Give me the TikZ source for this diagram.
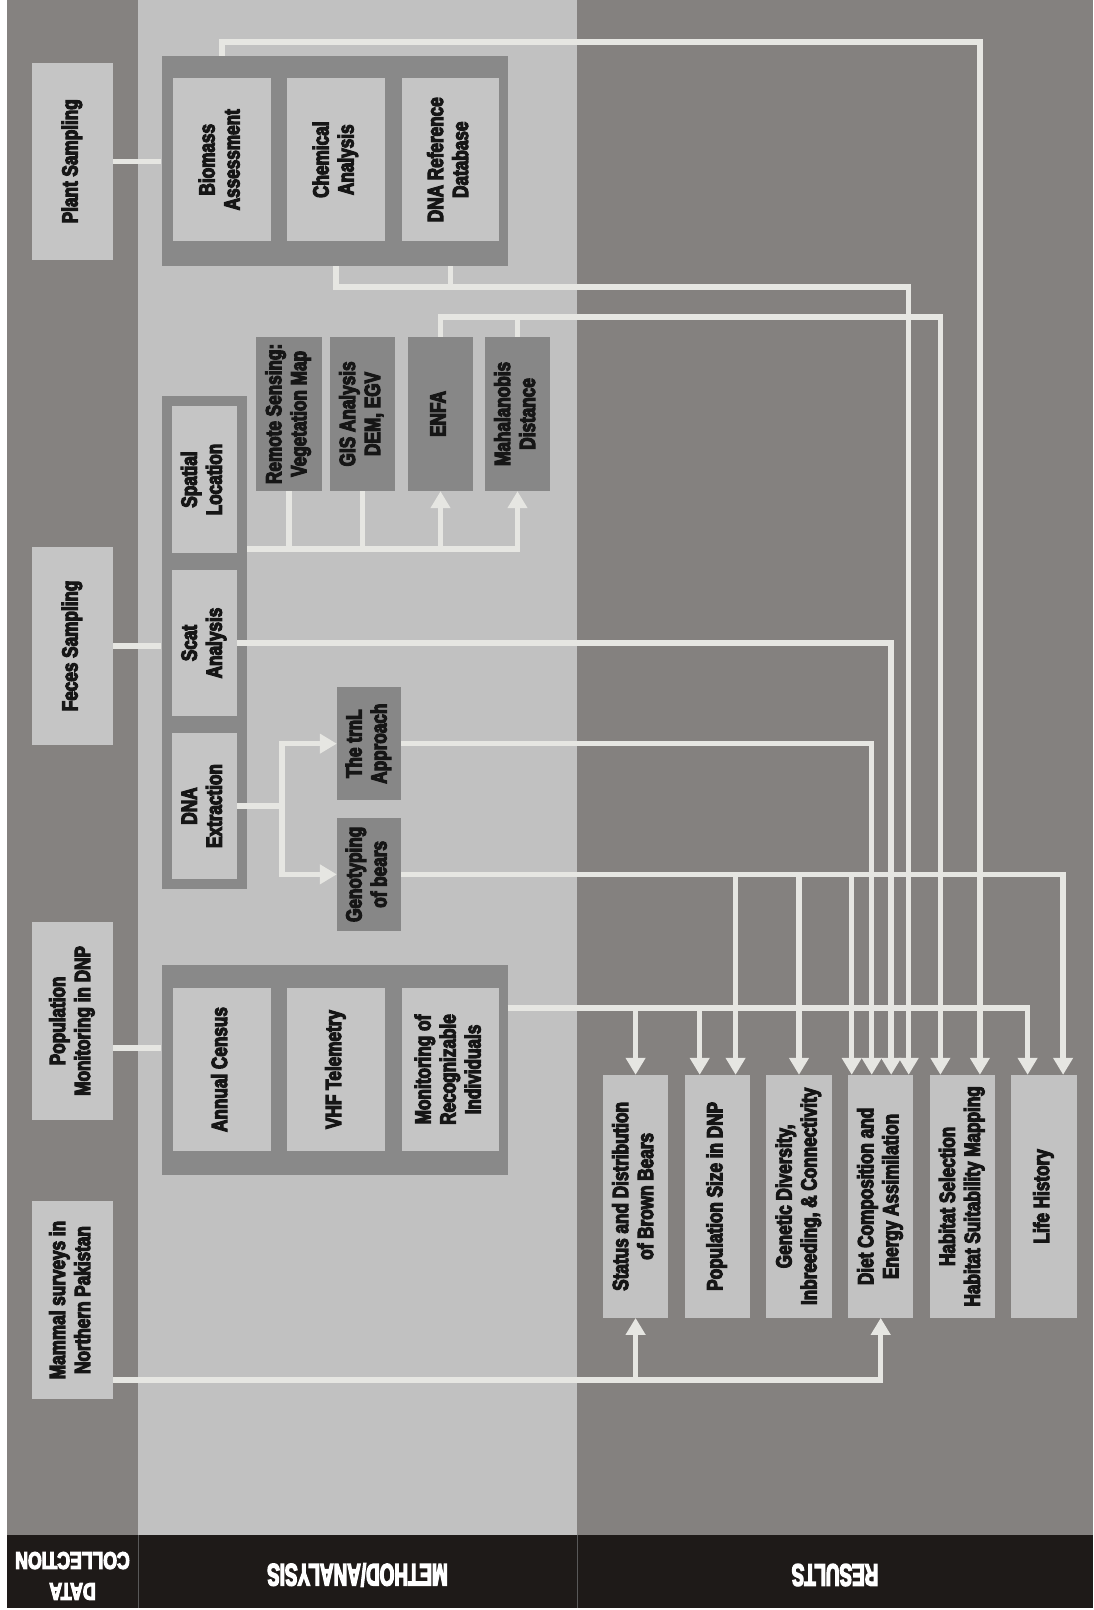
\documentclass[tikz,border=0pt]{standalone}
\usepackage{fontspec}
\usetikzlibrary{arrows.meta,calc}
\newfontfamily\boxfont[UprightFont={* Bold},FakeStretch=0.78,FakeBold=5]{Liberation Sans}
\definecolor{colDark}{HTML}{858280}
\definecolor{colLight}{HTML}{C1C1C1}
\definecolor{colRes}{HTML}{84817F}
\definecolor{colFoot}{HTML}{1E1A18}
\definecolor{boxLight}{HTML}{C5C5C5}
\definecolor{resLight}{HTML}{C2C2C2}
\definecolor{contCol}{HTML}{898989}
\definecolor{darkBox}{HTML}{878787}
\definecolor{lineCol}{HTML}{E6E6E2}
\definecolor{txtCol}{HTML}{161616}
\newcommand\rt[1]{\rotatebox{90}{\begin{tabular}{@{}c@{}}#1\end{tabular}}}
\tikzset{
  lb/.style={fill=boxLight, inner sep=0pt, text=txtCol},
  rb/.style={fill=resLight, inner sep=0pt, text=txtCol, minimum width=65.4pt, minimum height=242.7pt},
  db/.style={fill=darkBox, inner sep=0pt, text=txtCol},
  cont/.style={fill=contCol, inner sep=0pt},
  ln/.style={draw=lineCol, line width=5.5pt},
  arr/.style={ln, -{Triangle[length=17pt,width=19pt]}},
  foot/.style={text=white, inner sep=0pt, rotate=180}
}
\begin{document}
\begin{tikzpicture}[x=1pt,y=-1pt, font=\boxfont\fontsize{22}{25}\selectfont]
\useasboundingbox (0,0) rectangle (1093,1610);
\fill[white] (0,0) rectangle (1093,1610);
% column backgrounds
\fill[colDark] (7,0) rectangle (138,1535);
\fill[colLight] (138,0) rectangle (577,1535);
\fill[colRes] (577,0) rectangle (1093,1535);
\fill[colFoot] (7,1535) rectangle (1093,1608);
\draw[gray!70!black, line width=1pt] (138,1535) -- (138,1608) (577,1535) -- (577,1608);
\node[foot] (fdc) at (72.5,1574) {\scalebox{0.94}[1]{\fontsize{24}{31}\selectfont\begin{tabular}{@{}c@{}}DATA\\COLLECTION\end{tabular}}};
\node[foot] (fma) at (357.5,1575) {\scalebox{0.78}[1]{\fontsize{31}{31}\selectfont METHOD/ANALYSIS}};
\node[foot] (fre) at (835,1575) {\scalebox{0.78}[1]{\fontsize{31}{31}\selectfont RESULTS}};

% data collection boxes
\node[lb, minimum width=81pt, minimum height=197.5pt] (ps) at (72.5,161.25) {\rt{Plant Sampling}};
\node[lb, minimum width=81pt, minimum height=198.3pt] (fs) at (72.5,645.9) {\rt{Feces Sampling}};
\node[lb, minimum width=81pt, minimum height=198.3pt] (pm) at (72.5,1020.9) {\rt{Population\\Monitoring in DNP}};
\node[lb, minimum width=81pt, minimum height=198pt] (ms) at (72.5,1300) {\rt{Mammal surveys in\\Northern Pakistan}};

% plant container
\node[cont, minimum width=346pt, minimum height=210pt] (pc) at (334.5,161) {};
\node[lb, minimum width=98pt, minimum height=163.4pt] (ba) at (222,159.7) {\rt{Biomass\\Assessment}};
\node[lb, minimum width=98pt, minimum height=163.4pt] (ca) at (336,159.7) {\rt{Chemical\\Analysis}};
\node[lb, minimum width=97pt, minimum height=163.4pt] (dr) at (450.5,159.7) {\rt{DNA Reference\\Database}};

% feces container
\node[cont, minimum width=85.5pt, minimum height=493.6pt] (sc) at (204.25,642.5) {};
\node[lb, minimum width=65.5pt, minimum height=146.3pt] (sl) at (204.25,479.5) {\rt{Spatial\\Location}};
\node[lb, minimum width=65.5pt, minimum height=146pt] (sa) at (204.25,643) {\rt{Scat\\Analysis}};
\node[lb, minimum width=65.5pt, minimum height=146.6pt] (de) at (204.25,806) {\rt{DNA\\Extraction}};

% analysis boxes
\node[db, minimum width=65.5pt, minimum height=154.2pt] (rs) at (288.75,413.9) {\rt{Remote Sensing:\\Vegetation Map}};
\node[db, minimum width=65pt, minimum height=154.2pt] (gis) at (362.5,413.9) {\rt{GIS Analysis\\DEM, EGV}};
\node[db, minimum width=65pt, minimum height=154.2pt] (enfa) at (440.5,413.9) {\rt{ENFA}};
\node[db, minimum width=65pt, minimum height=154.2pt] (mah) at (517.5,413.9) {\rt{Mahalanobis\\Distance}};
\node[db, minimum width=64pt, minimum height=112.7pt] (trnl) at (369,743.65) {\rt{The trnL\\Approach}};
\node[db, minimum width=64pt, minimum height=113.3pt] (geno) at (369,874.35) {\rt{Genotyping\\of bears}};

% population container
\node[cont, minimum width=346pt, minimum height=210pt] (pmc) at (334.5,1070) {};
\node[lb, minimum width=98pt, minimum height=162.4pt] (ac) at (222,1069.5) {\rt{Annual Census}};
\node[lb, minimum width=98pt, minimum height=162.4pt] (vhf) at (336,1069.5) {\rt{VHF Telemetry}};
\node[lb, minimum width=97pt, minimum height=162.4pt] (mri) at (450.5,1069.5) {\rt{Monitoring of\\Recognizable\\Individuals}};

% results
\node[rb] (st) at (635.6,1196.35) {\rt{Status and Distribution\\of Brown Bears}};
\node[rb] (psz) at (717.3,1196.35) {\rt{Population Size in DNP}};
\node[rb] (gd) at (799,1196.35) {\rt{Genetic Diversity,\\Inbreeding, \& Connectivity}};
\node[rb] (dc) at (880.7,1196.35) {\rt{Diet Composition and\\Energy Assimilation}};
\node[rb] (hs) at (962.4,1196.35) {\rt{Habitat Selection\\Habitat Suitability Mapping}};
\node[rb] (lh) at (1044.1,1196.35) {\rt{Life History}};

% helper coordinates
\coordinate (yTop) at (0,42);
\coordinate (yChem) at (0,287);
\coordinate (yEnfa) at (0,317);
\coordinate (yBus) at (0,549);
\coordinate (yPm) at (0,1048);
\coordinate (yMon) at (0,1008);
\coordinate (yMam) at (0,1380);
\coordinate (xBr) at (282,0);
\coordinate (psz1) at ($(psz.north)+(-17.6,0)$);
\coordinate (psz2) at ($(psz.north)+(18.3,0)$);
\coordinate (dc1) at ($(dc.north)+(-29,0)$);
\coordinate (dc2) at ($(dc.north)+(-9,0)$);
\coordinate (dc3) at ($(dc.north)+(10.5,0)$);
\coordinate (dc4) at ($(dc.north)+(28,0)$);
\coordinate (hs1) at ($(hs.north)+(-22,0)$);
\coordinate (hs2) at ($(hs.north)+(17.5,0)$);
\coordinate (lh1) at ($(lh.north)+(-16.5,0)$);
\coordinate (lh2) at ($(lh.north)+(19,0)$);

% data collection -> method
\draw[ln] (ps.east) -- (ps.east -| pc.west);
\draw[ln] (fs.east) -- (fs.east -| sc.west);
\draw[ln] (pm.east |- yPm) -- (pmc.west |- yPm);

% plant lines
\draw[arr] (ba.north |- pc.north) -- (ba.north |- yTop) -| (hs2);
\draw[ln] (ca.south |- pc.south) -- (ca.south |- yChem) -- (dr.south |- yChem);
\draw[arr] (dr.south |- pc.south) -- (dr.south |- yChem) -| (dc4);

% ENFA / Mahalanobis
\draw[ln] (mah.north) -- (mah.north |- yEnfa);
\draw[arr] (enfa.north) -- (enfa.north |- yEnfa) -| (hs1);

% spatial bus
\draw[arr] (sc.east |- yBus) -| (mah.south);
\draw[ln] (rs.south |- yBus) -- (rs.south);
\draw[ln] (gis.south |- yBus) -- (gis.south);
\draw[arr] (enfa.south |- yBus) -- (enfa.south);

% scat
\draw[arr] (sa.east) -| (dc3);

% DNA extraction
\draw[arr] (de.east) -- (de.east -| xBr) |- (trnl.west);
\draw[arr] (de.east -| xBr) |- (geno.west);
\draw[arr] (trnl.east) -| (dc2);
\draw[arr] (geno.east) -| (lh2);
\draw[arr] (psz2 |- geno.east) -- (psz2);
\draw[arr] (gd.north |- geno.east) -- (gd.north);
\draw[arr] (dc1 |- geno.east) -- (dc1);

% monitoring
\draw[arr] (pmc.east |- yMon) -| (lh1);
\draw[arr] (st.north |- yMon) -- (st.north);
\draw[arr] (psz1 |- yMon) -- (psz1);

% mammal surveys
\draw[arr] (ms.east |- yMam) -| (dc.south);
\draw[arr] (st.south |- yMam) -- (st.south);
\end{tikzpicture}
\end{document}
